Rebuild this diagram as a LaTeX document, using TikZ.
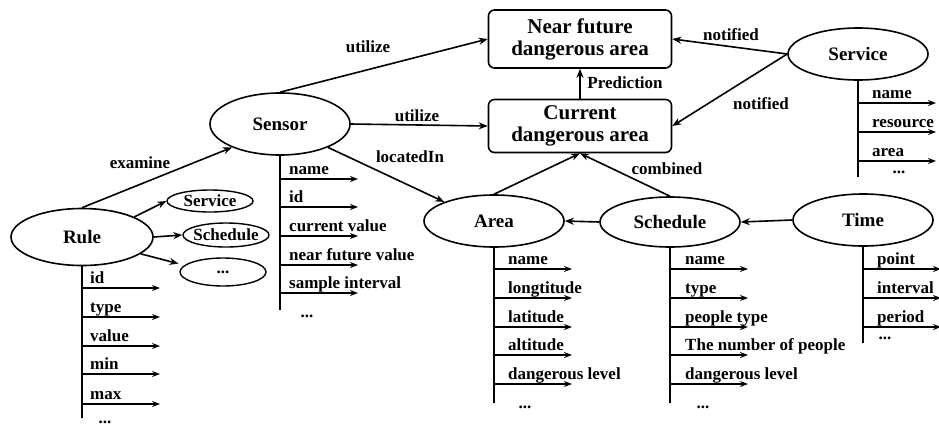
\documentclass[tikz,border=0pt]{standalone}
\usepackage{fontspec}
\setmainfont{Liberation Serif}
\usetikzlibrary{arrows.meta,shapes.geometric}

% attribute list under an entity: node, label offset, y/text pairs
\newcommand{\attrlist}[3]{%
  \foreach \yy/\txt [count=\k] in {#3}{%
    \coordinate (#1-s\k) at (#1.south |- 0,\yy);
    \coordinate (#1-e\k) at ([xshift=78pt]#1-s\k);
    \draw[attr] (#1-s\k) -- (#1-e\k);
    \node[lbl, anchor=base west] (#1-t\k) at ([xshift=#2pt, yshift=5pt]#1-s\k) {\txt};
  }}

\begin{document}
\begin{tikzpicture}[x=1pt, y=-1pt,
    ent/.style={draw, ellipse, line width=1.6pt, inner sep=0pt,
      minimum width=140, minimum height=52, font=\fontsize{19}{22}\selectfont\bfseries},
    sml/.style={draw, ellipse, line width=1.4pt, inner sep=0pt,
      minimum width=86, minimum height=24, font=\fontsize{17}{20}\selectfont\bfseries},
    areabox/.style={draw, rounded corners=6pt, line width=1.6pt, minimum width=183,
      align=center, font=\fontsize{21}{22}\selectfont\bfseries},
    lbl/.style={inner sep=0pt, font=\fontsize{17}{20}\selectfont\bfseries},
    rel/.style={line width=1.6pt, -{Stealth[length=9pt,width=7pt]}},
    attr/.style={line width=1.4pt, -{Stealth[length=8pt,width=6pt]}},
    stem/.style={line width=1.6pt}]
  \useasboundingbox (0,0) rectangle (939,426);

  %Vùng nguy hiểm
  \node[areabox, minimum height=58] (near) at (580,39) {Near future\\dangerous area};
  \node[areabox, minimum height=53] (current) at (580,126) {Current\\dangerous area};

  %Thực thể
  \node[ent, minimum height=62] (sensor) at (280,124) {Sensor};
  \node[ent] (service) at (858,54) {Service};
  \node[ent] (area) at (494,221) {Area};
  \node[ent, minimum height=50] (schedule) at (670,222) {Schedule};
  \node[ent] (time) at (863,220) {Time};
  \node[ent, minimum width=142, minimum height=57] (rule) at (82,237) {Rule};

  %Nút nhỏ của Rule
  \node[sml, minimum height=22] (rsvc) at (210,201) {\makebox[0pt]{Service}};
  \node[sml] (rsch) at (226,235) {\makebox[0pt]{Schedule}};
  \node[sml, minimum height=28] (rdots) at (223,272) {\makebox[0pt]{...}};

  %Quan hệ
  \draw[rel] (rule.north) -- (sensor.206);
  \node[lbl] (examine) at (140,163) {examine};
  \draw[rel] (sensor.north) -- (near.west);
  \node[lbl] (utilize1) at (368,47) {utilize};
  \draw[rel] (sensor.east) -- (current.west);
  \node[lbl] (utilize2) at (417,116) {utilize};
  \draw[rel] (sensor.334) -- (area.159);
  \node[lbl] (located) at (410,157) {locatedIn};
  \draw[rel] (current.north) -- (near.south);
  \node[lbl] (predict) at (625,83) {Prediction};
  \draw[rel] (area.north) -- (current.south);
  \draw[rel] (schedule.north) -- (current.south);
  \node[lbl] (combined) at (667,169) {combined};
  \draw[rel] (service.west) -- (near.east);
  \node[lbl] (notified1) at (731,35) {notified};
  \draw[rel] (service.west) -- (current.east);
  \node[lbl] (notified2) at (761,104) {notified};
  \draw[rel] (schedule.west) -- (area.east);
  \draw[rel] (time.west) -- (schedule.east);
  \draw[rel] (rule.21) -- (rsvc.west);
  \draw[rel] (rule.east) -- (rsch.west);
  \draw[rel, shorten >=6pt] (rule.-16) -- (rdots.170);

  %Thuộc tính
  \coordinate (rule-end) at (rule.south |- 0,418);
  \draw[stem] (rule.south) -- (rule-end);
  \attrlist{rule}{8}{288/id, 317/type, 346/value, 374/min, 404/max}
  \node[lbl, anchor=base] (rule-dots) at (105,423) {...};

  \coordinate (sensor-end) at (sensor.south |- 0,310);
  \draw[stem] (sensor.south) -- (sensor-end);
  \attrlist{sensor}{9}{179/name, 207/id, 236/current value, 265/near future value, 293/sample interval}
  \node[lbl] (sensor-dots) at (307,316) {...};

  \coordinate (service-end) at (service.south |- 0,177);
  \draw[stem] (service.south) -- (service-end);
  \attrlist{service}{14}{103/name, 132/resource, 161/area}
  \node[lbl] (service-dots) at (899,172) {...};

  \coordinate (area-end) at (area.south |- 0,403);
  \draw[stem] (area.south) -- (area-end);
  \attrlist{area}{14}{269/name, 298/longtitude, 327/latitude, 355/altitude, 384/dangerous level}
  \node[lbl] (area-dots) at (525,407) {...};

  \coordinate (schedule-end) at (schedule.south |- 0,403);
  \draw[stem] (schedule.south) -- (schedule-end);
  \attrlist{schedule}{15}{269/name, 298/type, 327/people type, 355/The number of people, 384/dangerous level}
  \node[lbl] (schedule-dots) at (703,407) {...};

  \coordinate (time-end) at (time.south |- 0,343);
  \draw[stem] (time.south) -- (time-end);
  \attrlist{time}{14}{269/point, 298/interval, 327/period}
  \node[lbl] (time-dots) at (885,338) {...};
\end{tikzpicture}
\end{document}
